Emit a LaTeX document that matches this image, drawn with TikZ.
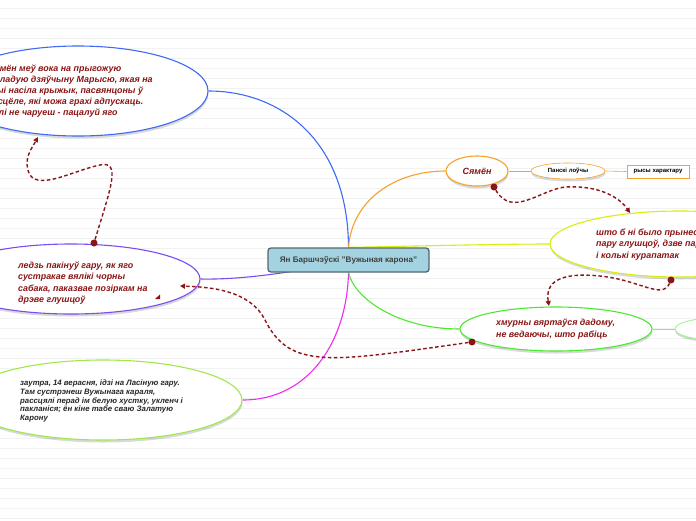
\documentclass[tikz,border=0pt]{standalone}
\usepackage{fontspec}
\setmainfont{Liberation Sans}
\usetikzlibrary{shapes.geometric,arrows.meta,shadows}
\definecolor{cblue}{HTML}{3D6BF5}
\definecolor{cpurple}{HTML}{7A4CF2}
\definecolor{cmag}{HTML}{EE2BEE}
\definecolor{clime}{HTML}{A0E84A}
\definecolor{cgreen}{HTML}{4CE830}
\definecolor{corange}{HTML}{F5A12A}
\definecolor{cyell}{HTML}{D8EE10}
\definecolor{mred}{HTML}{8B1414}
\definecolor{cbox}{HTML}{A3D3E0}
\definecolor{cdark}{HTML}{52666F}
\pgfdeclarelayer{bg}
\pgfsetlayers{bg,main}
\tikzset{
  bub/.style={ellipse, draw, fill=white, inner sep=0pt, line width=1.1pt,
    drop shadow={shadow xshift=0.5pt, shadow yshift=-2.5pt, opacity=0.15, fill=black}},
  mtext/.style={font=\fontsize{8.9}{11.2}\selectfont\bfseries\itshape, text=mred, align=left, inner sep=0pt},
  stext/.style={font=\fontsize{7.8}{8.7}\selectfont\bfseries\itshape, text=black!85, align=left, inner sep=0pt},
  link/.style={line width=1.1pt},
  rel/.style={mred, line width=1.4pt, dash pattern=on 3.5pt off 2.5pt, -{Triangle[length=5pt,width=5pt]}},
  rdot/.style={circle, fill=mred, inner sep=0pt, minimum size=7pt}
}
\begin{document}
\begin{tikzpicture}[x=1pt,y=-1pt]
\useasboundingbox (0,0) rectangle (696,520);
% nodes
\node[bub, draw=cblue, minimum width=260pt, minimum height=90pt] (e1) at (78,91) {};
\node[mtext, anchor=west] (t1) at (-12,91) {Сямён меў вока на прыгожую\\маладую дзяўчыну Марысю, якая на\\шыі насіла крыжык, пасвянцоны ў\\касцёле, які можа грахі адпускаць.\\Калі не чаруеш - пацалуй яго};
\node[bub, draw=cpurple, minimum width=258pt, minimum height=70pt] (e2) at (71,279) {};
\node[mtext, anchor=west] (t2) at (18,283) {ледзь пакінуў гару, як яго\\сустракае вялікі чорны\\сабака, паказвае позіркам на\\дрэве глушцоў};
\node[bub, draw=clime, minimum width=278pt, minimum height=80pt] (e3) at (103,400) {};
\node[stext, anchor=west] (t3) at (20,401) {заутра, 14 верасня, ідзі на Ласіную гару.\\Там сустрэнеш Вужынага караля,\\рассцялі перад ім белую хустку, укленч і\\пакланіся; ён кіне табе сваю Залатую\\Карону};
\node[draw=cdark, fill=cbox, line width=1.3pt, rounded corners=3pt, minimum width=161pt, minimum height=24pt, inner sep=0pt, font=\fontsize{8.1}{9}\selectfont\bfseries, text=black!75] (c) at (348.5,260) {Ян Баршчэўскі "Вужыная карона"};
\node[bub, draw=corange, minimum width=62pt, minimum height=30pt, font=\fontsize{9}{11}\selectfont\bfseries\itshape, text=mred] (e4) at (477,171) {Сямён};
\node[bub, draw=corange, line width=0.6pt, minimum width=74pt, minimum height=16pt, font=\fontsize{6}{7}\selectfont\bfseries] (e5) at (568,171) {Панскі лоўчы};
\node[draw=corange, line width=0.6pt, fill=white, minimum width=62pt, minimum height=13pt, inner sep=0pt, font=\fontsize{6}{7}\selectfont\bfseries] (r6) at (658,171.5) {рысы характару};
\node[bub, draw=cyell, minimum width=260pt, minimum height=66pt] (e7) at (680,244) {};
\node[mtext, anchor=west] (t7) at (596,244.5) {што б ні было прынесці\\пару глушцоў, дзве пары цецерукоў\\і колькі курапатак};
\node[bub, draw=cgreen, minimum width=192pt, minimum height=44pt] (e8) at (556,329) {};
\node[mtext, anchor=west] (t8) at (496,329) {хмурны вяртаўся дадому,\\не ведаючы, што рабіць};
\node[bub, draw=cgreen!55, line width=0.8pt, minimum width=84pt, minimum height=22pt] (e9) at (717,329) {};
% background and connectors
\begin{pgfonlayer}{bg}
\fill[white] (0,0) rectangle (696,520);
\foreach \k in {0,...,51} \draw[black!5, line width=0.8pt] (0,{8+10*\k}) -- (696,{8+10*\k});
\draw[link, cblue] (c.north) .. controls (348,140) and (280,91) .. (e1.east);
\draw[link, cpurple] (c.center) .. controls (300,272) and (240,280) .. (e2.east);
\draw[link, cmag] (c.south) .. controls (347,340) and (310,400) .. (e3.east);
\draw[link, cgreen] (c.south) .. controls (355,300) and (400,329) .. (e8.west);
\draw[link, corange] (c.north) .. controls (352,200) and (395,171) .. (e4.west);
\draw[link, cyell] (c.north) .. controls (420,246) and (500,244) .. (e7.west);
\draw[corange, line width=0.6pt] (e4.east) -- (e5.west);
\draw[corange, line width=0.6pt] (e5.east) -- (r6.west);
\draw[cgreen!70, line width=0.8pt] (e8.east) -- (e9.west);
\end{pgfonlayer}
% relation markers
\node[rdot] (d1) at (94,243) {};
\node[rdot] (d2) at (472,342) {};
\node[rdot] (d3) at (494,187) {};
\node[rdot] (d4) at (671,280) {};
\coordinate (a1) at (38,137);
\coordinate (a2) at (180,286);
\coordinate (a3) at (630,213);
\coordinate (a4) at (549,306);
\draw[rel] (d1) .. controls (110,190) and (122,160) .. (100,165) .. controls (75,170) and (40,190) .. (30,175) .. controls (22,160) and (32,148) .. (a1);
\draw[rel] (d2) .. controls (330,362) and (290,370) .. (265,320) .. controls (250,290) and (210,287) .. (a2);
\draw[rel] (d3) .. controls (512,218) and (540,190) .. (565,187) .. controls (600,185) and (620,198) .. (a3);
\draw[rel] (d4) .. controls (662,300) and (640,280) .. (600,276) .. controls (560,272) and (545,282) .. (a4);
\fill[mred] (155,299) -- (160,299) -- (160,294.5) -- cycle;
\end{tikzpicture}
\end{document}
